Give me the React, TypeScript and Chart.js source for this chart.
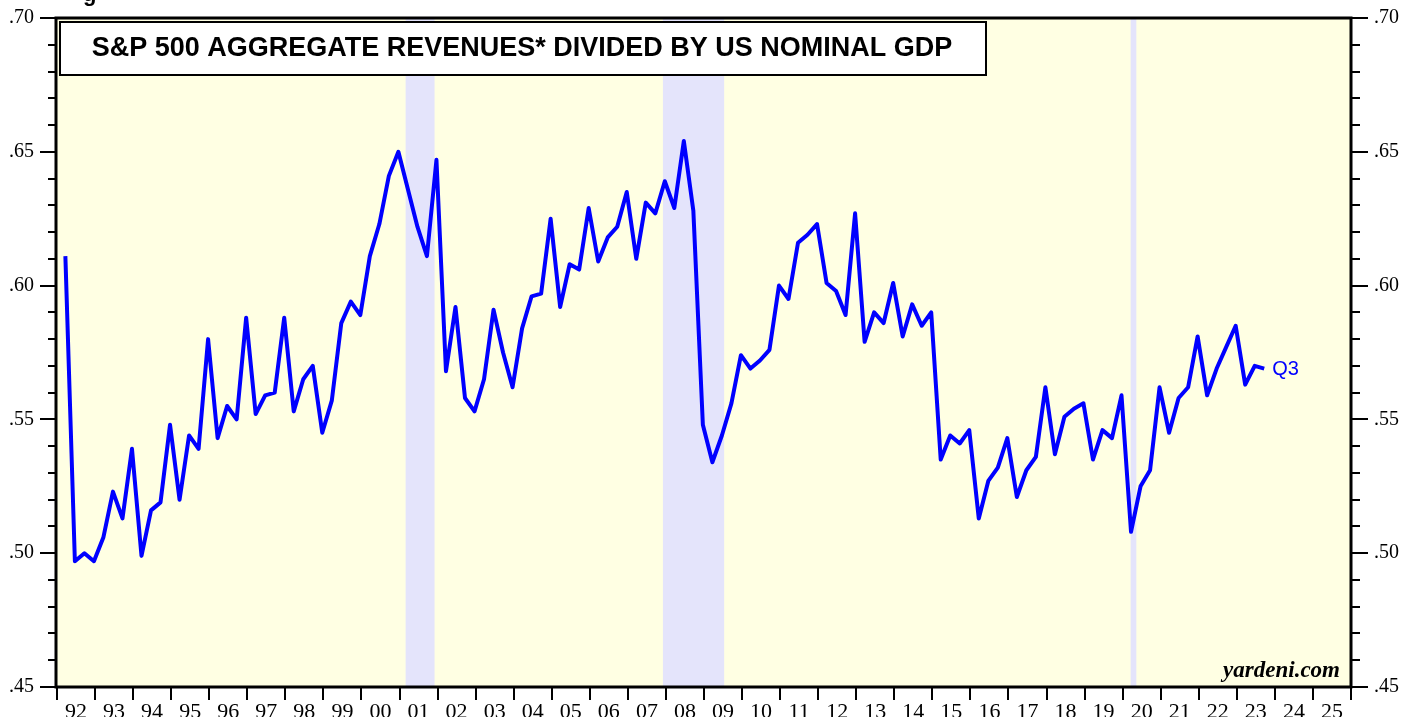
import React, { useEffect, useRef } from "react";
import { Chart, registerables } from "chart.js";

Chart.register(...registerables);

// ---- Data (quarterly, Q1 1992 .. Q3 2023) ----
const firstYear = 1992;
const values1990s = [
  0.611, 0.497, 0.500, 0.497, // 92
  0.506, 0.523, 0.513, 0.539, // 93
  0.499, 0.516, 0.519, 0.548, // 94
  0.520, 0.544, 0.539, 0.580, // 95
  0.543, 0.555, 0.550, 0.588, // 96
  0.552, 0.559, 0.560, 0.588, // 97
  0.553, 0.565, 0.570, 0.545, // 98
  0.557, 0.586, 0.594, 0.589, // 99
];
const values2000s = [
  0.611, 0.623, 0.641, 0.650, // 00
  0.636, 0.622, 0.611, 0.647, // 01
  0.568, 0.592, 0.558, 0.553, // 02
  0.565, 0.591, 0.575, 0.562, // 03
  0.584, 0.596, 0.597, 0.625, // 04
  0.592, 0.608, 0.606, 0.629, // 05
  0.609, 0.618, 0.622, 0.635, // 06
  0.610, 0.631, 0.627, 0.639, // 07
  0.629, 0.654, 0.628, 0.548, // 08
  0.534, 0.544, 0.556, 0.574, // 09
];
const values2010s = [
  0.569, 0.572, 0.576, 0.600, // 10
  0.595, 0.616, 0.619, 0.623, // 11
  0.601, 0.598, 0.589, 0.627, // 12
  0.579, 0.590, 0.586, 0.601, // 13
  0.581, 0.593, 0.585, 0.590, // 14
  0.535, 0.544, 0.541, 0.546, // 15
  0.513, 0.527, 0.532, 0.543, // 16
  0.521, 0.531, 0.536, 0.562, // 17
  0.537, 0.551, 0.554, 0.556, // 18
  0.535, 0.546, 0.543, 0.559, // 19
];
const values2020s = [
  0.508, 0.525, 0.531, 0.562, // 20
  0.545, 0.558, 0.562, 0.581, // 21
  0.559, 0.569, 0.577, 0.585, // 22
  0.563, 0.570, 0.569,        // 23
];
const allValues = [...values1990s, ...values2000s, ...values2010s, ...values2020s];

// recession periods (decimal years)
const recessionStarts = [2001.16, 2007.92, 2020.21];
const recessionEnds = [2001.92, 2009.53, 2020.36];

const xMin = 1992;
const xMax = 2026;
const yMin = 0.45;
const yMax = 0.7;

const titleText = "S&P 500 AGGREGATE REVENUES* DIVIDED BY US NOMINAL GDP";
const lastLabel = "Q3";
const sourceText = "yardeni.com";

const SERIF = "'Liberation Serif', 'Times New Roman', serif";
const SANS = "'Liberation Sans', Arial, sans-serif";

const points = allValues.map((v, i) => ({
  x: firstYear + Math.floor(i / 4) + (i % 4) / 4 + 0.22,
  y: v,
}));

const backgroundPlugin = {
  id: "bgBands",
  beforeDatasetsDraw(chart: any) {
    const { ctx, chartArea } = chart;
    const xs = chart.scales.x;
    ctx.save();
    ctx.fillStyle = "#FFFFE3";
    ctx.fillRect(chartArea.left, chartArea.top, chartArea.right - chartArea.left, chartArea.bottom - chartArea.top);
    ctx.fillStyle = "#E4E4FB";
    recessionStarts.forEach((s, i) => {
      const x1 = xs.getPixelForValue(s);
      const x2 = xs.getPixelForValue(recessionEnds[i]);
      ctx.fillRect(x1, chartArea.top, x2 - x1, chartArea.bottom - chartArea.top);
    });
    // title box
    ctx.fillStyle = "#FFFFFF";
    ctx.strokeStyle = "#000";
    ctx.lineWidth = 2;
    ctx.fillRect(60, 22, 926, 53);
    ctx.strokeRect(60, 22, 926, 53);
    ctx.restore();
  },
};

const overlayPlugin = {
  id: "overlay",
  afterDraw(chart: any) {
    const { ctx, chartArea } = chart;
    ctx.save();
    // frame
    ctx.strokeStyle = "#000";
    ctx.lineWidth = 3;
    ctx.strokeRect(chartArea.left - 1, chartArea.top, chartArea.right - chartArea.left + 1, chartArea.bottom - chartArea.top);
    // title
    ctx.fillStyle = "#000";
    ctx.font = `bold 27px ${SANS}`;
    ctx.textAlign = "center";
    ctx.textBaseline = "middle";
    ctx.fillText(titleText, 522, 49);
    // cut-off text at very top
    ctx.font = `bold 22px ${SANS}`;
    ctx.textAlign = "left";
    ctx.textBaseline = "alphabetic";
    ctx.fillText("g", 83, 1);
    // Q3 label
    const meta = chart.getDatasetMeta(0);
    const last = meta.data[meta.data.length - 1];
    ctx.fillStyle = "#0000FF";
    ctx.font = `20px ${SANS}`;
    ctx.textAlign = "left";
    ctx.textBaseline = "middle";
    ctx.fillText(lastLabel, last.x + 8, last.y + 1);
    // source
    ctx.fillStyle = "#000";
    ctx.font = `bold italic 23px ${SERIF}`;
    ctx.textAlign = "right";
    ctx.textBaseline = "alphabetic";
    ctx.fillText(sourceText, chartArea.right - 11, chartArea.bottom - 10);
    ctx.restore();
  },
};

export default function App() {
  const ref = useRef<HTMLCanvasElement | null>(null);
  useEffect(() => {
    if (!ref.current) return;
    const yLabel = (v: any) => "." + Math.round(Number(v) * 100).toString();
    const chart = new Chart(ref.current, {
      type: "line",
      data: {
        datasets: [
          {
            data: points,
            borderColor: "#0000FF",
            borderWidth: 4,
            borderJoinStyle: "round",
            pointRadius: 0,
            tension: 0,
            fill: false,
          },
        ],
      },
      options: {
        animation: false,
        responsive: false,
        devicePixelRatio: 1,
        layout: { padding: { top: 15, left: 0, right: 0, bottom: 0 } },
        plugins: { legend: { display: false }, tooltip: { enabled: false } },
        scales: {
          x: {
            type: "linear",
            min: xMin,
            max: xMax,
            border: { display: false },
            grid: { drawOnChartArea: false, tickLength: 13, color: "#000", lineWidth: 2 },
            ticks: {
              stepSize: 1,
              maxTicksLimit: 100,
              autoSkip: false,
              maxRotation: 0,
              labelOffset: 19,
              padding: -1,
              color: "#000",
              font: { family: SERIF, size: 22 },
              callback: (v: any) => (Number(v) < xMax ? String(Number(v) % 100).padStart(2, "0") : ""),
            },
            afterFit: (s: any) => { s.height = 30; },
          },
          y: {
            type: "linear",
            position: "left",
            weight: 1,
            min: yMin,
            max: yMax,
            border: { display: false },
            grid: { drawOnChartArea: false, tickLength: 17, color: "#000", lineWidth: 2 },
            ticks: { stepSize: 0.05, padding: 6, color: "#000", font: { family: SERIF, size: 20 }, callback: yLabel },
            afterFit: (s: any) => { s.width = 57; },
          },
          yMinorL: {
            type: "linear",
            position: "left",
            weight: 0,
            display: true,
            min: yMin,
            max: yMax,
            border: { display: false },
            grid: { drawOnChartArea: false, tickLength: 9, color: "#000", lineWidth: 2 },
            ticks: { stepSize: 0.01, display: false, maxTicksLimit: 100 },
            afterFit: (s: any) => { s.width = 0; },
          },
          yR: {
            type: "linear",
            position: "right",
            weight: 1,
            min: yMin,
            max: yMax,
            border: { display: false },
            grid: { drawOnChartArea: false, tickLength: 17, color: "#000", lineWidth: 2 },
            ticks: { stepSize: 0.05, padding: 6, color: "#000", font: { family: SERIF, size: 20 }, callback: yLabel },
            afterFit: (s: any) => { s.width = 66; },
          },
          yMinorR: {
            type: "linear",
            position: "right",
            weight: 0,
            display: true,
            min: yMin,
            max: yMax,
            border: { display: false },
            grid: { drawOnChartArea: false, tickLength: 9, color: "#000", lineWidth: 2 },
            ticks: { stepSize: 0.01, display: false, maxTicksLimit: 100 },
            afterFit: (s: any) => { s.width = 0; },
          },
        },
      },
      plugins: [backgroundPlugin, overlayPlugin],
    } as any);
    return () => chart.destroy();
  }, []);
  return (
    <div style={{ position: "absolute", left: 0, top: 0, width: 1417, height: 717, background: "#fff" }}>
      <canvas ref={ref} width={1417} height={717} style={{ display: "block" }} />
    </div>
  );
}
